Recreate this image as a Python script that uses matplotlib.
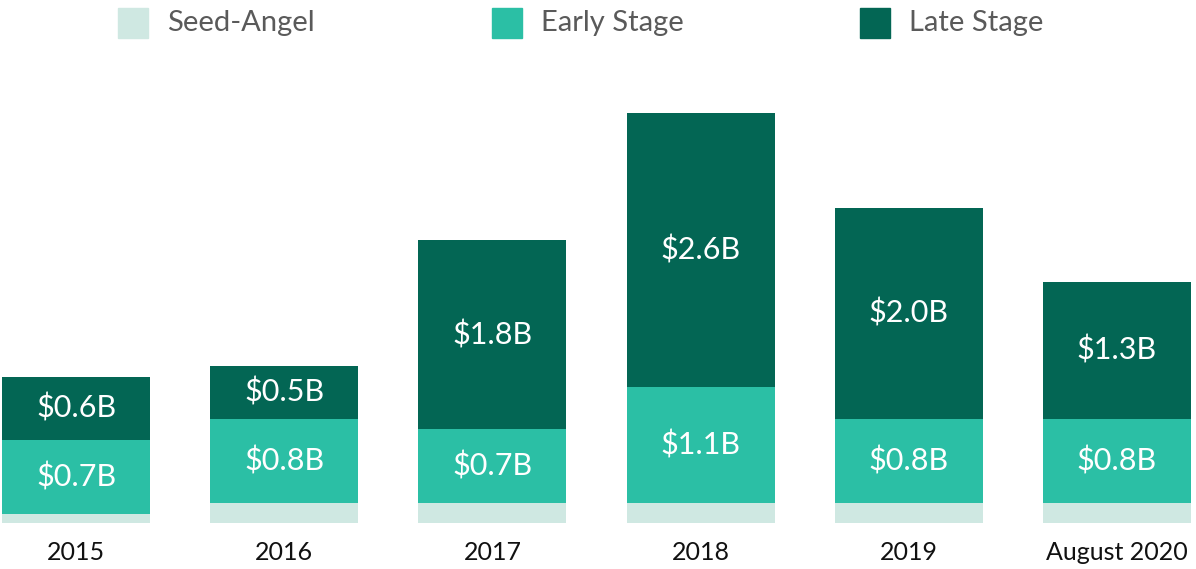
import matplotlib
matplotlib.use("Agg")
import matplotlib.pyplot as plt
from matplotlib.patches import Rectangle

plt.rcParams['font.family'] = ['Lato', 'DejaVu Sans']

years = ["2015", "2016", "2017", "2018", "2019", "August 2020"]
seed_angel = [0.09, 0.19, 0.19, 0.19, 0.19, 0.19]
early_stage = [0.7, 0.8, 0.7, 1.1, 0.8, 0.8]
late_stage = [0.6, 0.5, 1.8, 2.6, 2.0, 1.3]

series_names = ["Seed-Angel", "Early Stage", "Late Stage"]
colors = ["#cfe8e2", "#2bbfa5", "#036654"]

W, H = 1196, 569
fig = plt.figure(figsize=(W / 100, H / 100), dpi=100)
ax = fig.add_axes([0, 46 / H, 1, 423 / H])

x = list(range(len(years)))
bottom = [0.0] * len(years)
for vals, col, name in zip([seed_angel, early_stage, late_stage], colors, series_names):
    bars = ax.bar(x, vals, width=0.71, bottom=bottom, color=col, label=name)
    if name != "Seed-Angel":
        for xi, b, v in zip(x, bottom, vals):
            ax.text(xi, b + v / 2, f"${v:.1f}B", ha="center", va="center",
                    color="white", fontsize=22)
    bottom = [b + v for b, v in zip(bottom, vals)]

px_per_unit = 208.2
ax.set_xlim(-76 / px_per_unit, (W - 76) / px_per_unit)
ax.set_ylim(0, 423 / 105.3)
ax.axis("off")

for xi, lab in zip(x, years):
    ax.text(xi, -30 / 105.3, lab, ha="center", va="center", fontsize=18, color="#111111")

# legend drawn by hand
leg_x = [118, 492, 860]
for lx, col, name in zip(leg_x, colors, series_names):
    fig.patches.append(Rectangle((lx / W, 1 - 38 / H), 30 / W, 30 / H,
                                 transform=fig.transFigure, color=col))
    fig.text((lx + 49) / W, 1 - 23 / H, name, ha="left", va="center",
             fontsize=21, color="#5a5a5a")

fig.savefig("out.png", dpi=100)
